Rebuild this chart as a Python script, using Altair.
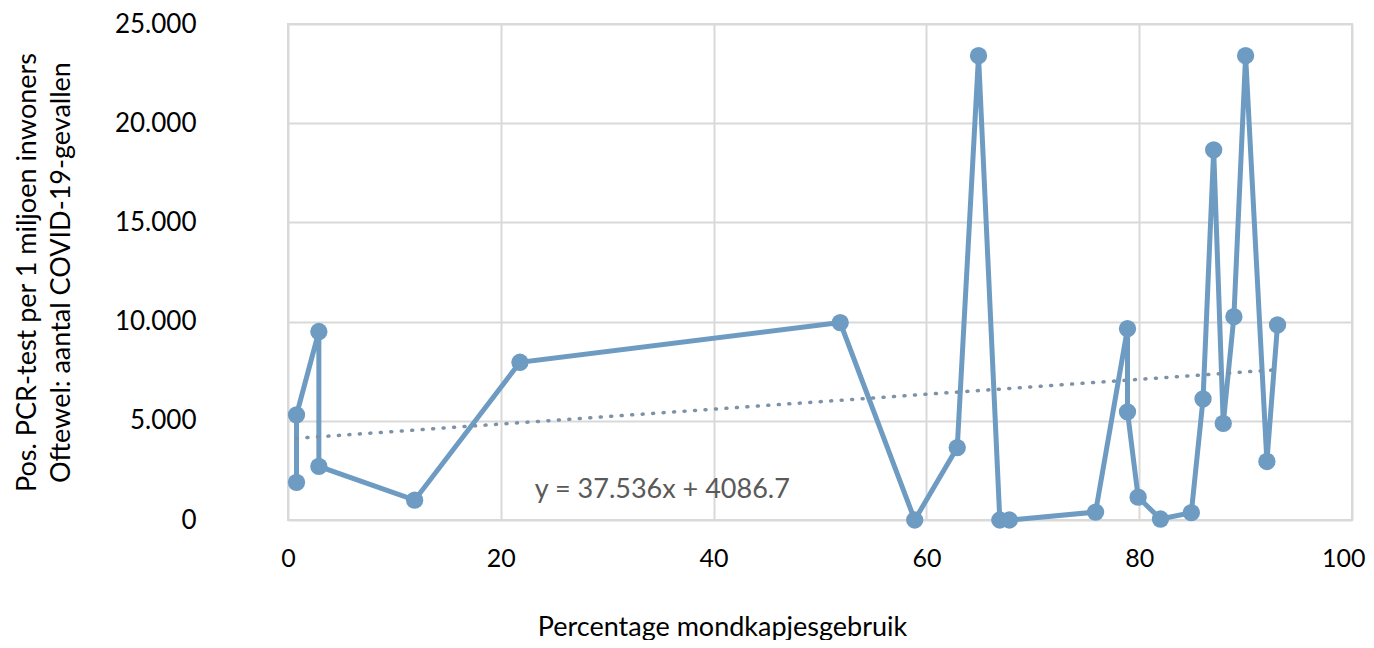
import altair as alt
import pandas as pd

# Data (in plotting order, Excel scatter with lines)
mask_pct = [0.8, 0.8, 2.9, 2.9, 11.9, 21.8, 51.9, 58.9, 62.9, 64.9, 66.9, 67.8,
            75.9, 78.9, 78.9, 79.9, 82.0, 84.9, 86.0, 87.0, 87.9, 88.9, 90.0, 92.0, 93.0]
cases = [1900, 5300, 9500, 2700, 1000, 7950, 9950, 0, 3650, 23400, 0, 0,
         400, 9650, 5450, 1150, 50, 370, 6100, 18650, 4870, 10250, 23400, 2950, 9830]
order_idx = list(range(len(mask_pct)))

# trendline endpoints (y = 37.536x + 4086.7 over the data range)
trend_x = [0.8, 93.0]
trend_y = [4116.7, 7577.6]

eq_text = ["y = 37.536x + 4086.7"]
eq_x = [23.2]
eq_y = [1510]

x_ticks = [0, 20, 40, 60, 80, 100]
y_ticks = [0, 5000, 10000, 15000, 20000, 25000]

x_title = "Percentage mondkapjesgebruik"
y_title = ["Pos. PCR-test per 1 miljoen inwoners", "Oftewel: aantal COVID-19-gevallen"]

df = pd.DataFrame({"x": mask_pct, "y": cases, "i": order_idx})
df_trend = pd.DataFrame({"x": trend_x, "y": trend_y})
df_eq = pd.DataFrame({"x": eq_x, "y": eq_y, "t": eq_text})

FONT = "Lato"
LINE_COLOR = "#6e9bc2"

x_scale = alt.Scale(domain=[0, 100], nice=False, zero=False)
y_scale = alt.Scale(domain=[0, 25000], nice=False)

x_axis = alt.Axis(
    values=x_ticks, title=x_title, grid=True, gridColor="#d9d9d9", gridWidth=2,
    domain=False, ticks=False, labelFont=FONT, labelFontSize=25, labelColor="#000000",
    labelPadding=26, labelFlush=False,
    labelAlign={"condition": {"test": "datum.value == 100", "value": "right"}, "value": "center"},
    labelOffset={"condition": {"test": "datum.value == 100", "value": 13}, "value": 0},
    titleFont=FONT, titleFontSize=27,
    titleFontWeight="normal", titleColor="#000000", titleX=434, titleY=115,
    titleAlign="center", titleBaseline="alphabetic",
)
y_axis = alt.Axis(
    values=y_ticks, title=y_title, grid=True, gridColor="#d9d9d9", gridWidth=2,
    domain=False, ticks=False, labelFont=FONT, labelFontSize=26, labelColor="#000000",
    labelPadding=92, labelFlush=False,
    labelExpr="replace(format(datum.value, ','), ',', '.')",
    titleFont=FONT, titleFontSize=27, titleFontWeight="normal", titleColor="#000000",
    titleAngle=270, titleX=-261, titleY=248, titleAlign="center",
    titleBaseline="middle", titleLineHeight=34,
)

base = alt.Chart(df)
line = base.mark_line(color=LINE_COLOR, strokeWidth=5, clip=False).encode(
    x=alt.X("x:Q", scale=x_scale, axis=x_axis),
    y=alt.Y("y:Q", scale=y_scale, axis=y_axis),
    order=alt.Order("i:Q"),
)
points = base.mark_circle(color=LINE_COLOR, size=300, opacity=1, clip=False).encode(
    x=alt.X("x:Q", scale=x_scale),
    y=alt.Y("y:Q", scale=y_scale),
)
trend = alt.Chart(df_trend).mark_line(
    color="#7d92a6", strokeWidth=3.5, strokeDash=[1, 9.5], strokeCap="round"
).encode(
    x=alt.X("x:Q", scale=x_scale),
    y=alt.Y("y:Q", scale=y_scale),
)
eq = alt.Chart(df_eq).mark_text(
    align="left", baseline="middle", font=FONT, fontSize=27, color="#595959"
).encode(
    x=alt.X("x:Q", scale=x_scale),
    y=alt.Y("y:Q", scale=y_scale),
    text="t:N",
)

chart = alt.layer(line, points, trend, eq).properties(
    width=1064, height=496,
    autosize=alt.AutoSizeParams(type="none"),
    padding={"left": 280, "top": 16, "right": 14, "bottom": 120},
    background="#ffffff",
).configure_view(stroke="#d9d9d9", strokeWidth=2)

chart.save("out.html", embed_options={"renderer": "svg", "actions": False})
